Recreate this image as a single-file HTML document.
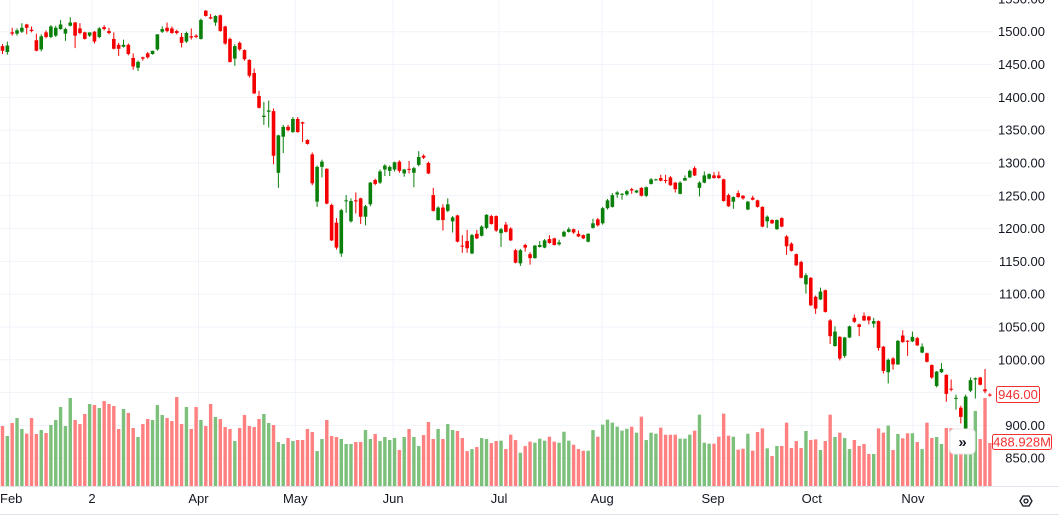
<!DOCTYPE html>
<html><head><meta charset="utf-8"><style>
html,body{margin:0;padding:0;background:#fff;}
svg{display:block;font-family:"Liberation Sans",sans-serif;}
</style></head><body>
<svg id="chart" width="1059" height="518" viewBox="0 0 1059 518" xmlns="http://www.w3.org/2000/svg">
<g id="grid"></g>
<g id="vol"></g>
<g id="candles"></g>
<g id="axis"></g>
<g id="taxis"></g>
<line x1="0" y1="486.5" x2="1059" y2="486.5" stroke="#e0e3eb"/>
<line x1="0" y1="514.5" x2="1059" y2="514.5" stroke="#e0e3eb"/>
<g>
<rect x="996.5" y="386.5" width="43" height="16" rx="2" fill="#fff" stroke="#f23030"/>
<text x="1018" y="399" text-anchor="middle" font-size="13" fill="#f23030">946.00</text>
</g>
<g>
<rect x="992.5" y="434.5" width="59" height="15" rx="2" fill="#fff" stroke="#f23030"/>
<text x="1022" y="446.5" text-anchor="middle" font-size="13" fill="#f23030">488.928M</text>
</g>
<g>
<rect x="950" y="429" width="25" height="25" rx="4" fill="#fff" stroke="#e8e8e8"/>
<text x="962.5" y="447" text-anchor="middle" font-size="15" font-weight="bold" fill="#131722">»</text>
</g>
<g>
<polygon points="1020,501 1023,496 1029,496 1032,501 1029,506 1023,506" fill="none" stroke="#131722" stroke-width="1.3"/>
<circle cx="1026" cy="501" r="2" fill="none" stroke="#131722" stroke-width="1.3"/>
</g>
</svg>
<script>
const opens=[1478,1469,1499,1497,1500,1511,1503,1487,1473,1499,1492,1494,1504,1497,1509,1514,1505,1499,1494,1500,1492,1507,1501,1489,1480,1477,1480,1460,1445,1461,1467,1466,1473,1500,1506,1505,1501,1492,1485,1493,1494,1489,1532,1522,1514,1525,1508,1489,1459,1483,1472,1457,1437,1402,1370,1378,1379,1285,1340,1355,1347,1367,1362,1335,1313,1241,1294,1291,1236,1209,1162,1242,1211,1243,1246,1218,1237,1274,1270,1290,1288,1290,1302,1284,1291,1285,1297,1311,1300,1251,1213,1232,1227,1211,1220,1174,1181,1162,1192,1189,1201,1219,1219,1193,1206,1200,1167,1147,1175,1161,1155,1172,1171,1184,1185,1176,1188,1195,1199,1192,1190,1180,1201,1214,1208,1231,1233,1252,1252,1252,1260,1255,1262,1250,1268,1274,1277,1274,1278,1270,1253,1273,1278,1292,1262,1270,1276,1281,1281,1275,1251,1241,1254,1250,1229,1247,1243,1233,1211,1213,1199,1216,1188,1177,1161,1149,1115,1125,1096,1092,1106,1060,1021,1035,1006,1034,1064,1054,1067,1066,1055,1059,1020,981,1002,993,1037,1029,1028,1033,1011,1010,992,960,981,977,956,941,927,893,953,970,973,955,947];
const closes=[1471,1479,1497,1502,1506,1506,1501,1471,1493,1492,1508,1506,1511,1504,1514,1494,1498,1489,1499,1485,1505,1504,1498,1474,1474,1480,1466,1447,1454,1459,1461,1471,1496,1504,1501,1498,1498,1483,1498,1491,1492,1518,1524,1520,1524,1501,1482,1454,1478,1473,1458,1433,1406,1384,1372,1380,1311,1342,1355,1350,1367,1347,1360,1329,1269,1294,1302,1238,1182,1171,1228,1243,1242,1242,1218,1234,1270,1268,1287,1296,1294,1301,1288,1290,1290,1292,1309,1308,1284,1227,1232,1213,1237,1217,1180,1173,1170,1190,1185,1203,1221,1207,1197,1199,1195,1182,1148,1167,1171,1155,1174,1175,1182,1178,1175,1179,1195,1199,1194,1188,1185,1192,1208,1205,1231,1243,1251,1255,1253,1257,1258,1258,1250,1263,1275,1275,1273,1273,1266,1260,1270,1277,1288,1281,1270,1281,1283,1277,1277,1242,1234,1248,1248,1246,1241,1244,1233,1203,1218,1208,1213,1203,1173,1166,1144,1125,1129,1083,1078,1104,1073,1036,1043,1002,1034,1051,1058,1050,1060,1060,1059,1018,983,1000,993,1029,1027,1028,1035,1022,1020,997,973,982,986,948,955,942,913,944,969,972,962,952,946];
const highs=[1481,1485,1506,1505,1513,1512,1508,1497,1496,1502,1510,1509,1518,1506,1522,1515,1513,1500,1497,1501,1507,1510,1506,1499,1483,1488,1482,1467,1456,1462,1469,1468,1496,1508,1514,1508,1503,1498,1500,1505,1496,1520,1533,1527,1525,1526,1509,1491,1481,1485,1473,1458,1444,1410,1393,1395,1383,1343,1358,1358,1370,1370,1363,1336,1316,1296,1305,1292,1238,1216,1230,1251,1246,1255,1247,1236,1271,1276,1290,1298,1296,1302,1304,1291,1303,1294,1318,1313,1302,1262,1234,1237,1246,1219,1221,1190,1198,1192,1198,1205,1222,1221,1220,1201,1210,1202,1169,1169,1177,1164,1175,1181,1184,1190,1186,1183,1197,1202,1200,1197,1191,1193,1215,1216,1233,1245,1254,1257,1254,1259,1262,1259,1263,1264,1277,1276,1282,1282,1280,1271,1272,1281,1290,1295,1272,1287,1284,1286,1287,1276,1253,1249,1258,1251,1242,1250,1244,1234,1220,1214,1214,1217,1190,1179,1162,1151,1132,1126,1098,1110,1107,1062,1051,1036,1035,1052,1069,1055,1072,1067,1064,1060,1021,1002,1004,1030,1045,1030,1043,1035,1025,1011,993,983,995,978,970,947,930,947,973,973,974,986,949];
const lows=[1466,1465,1494,1494,1498,1496,1499,1470,1470,1490,1490,1492,1503,1486,1508,1475,1496,1488,1492,1482,1490,1502,1496,1473,1463,1476,1464,1442,1440,1456,1459,1465,1471,1498,1499,1497,1496,1476,1483,1488,1490,1488,1523,1519,1509,1500,1480,1453,1448,1471,1456,1430,1405,1383,1358,1354,1298,1262,1315,1348,1346,1346,1332,1328,1266,1233,1278,1237,1181,1168,1157,1224,1209,1223,1207,1205,1234,1266,1268,1280,1280,1287,1285,1279,1284,1263,1295,1306,1283,1226,1212,1197,1225,1194,1179,1163,1163,1161,1184,1188,1199,1206,1195,1172,1194,1181,1147,1143,1165,1145,1154,1171,1170,1177,1174,1174,1187,1194,1192,1187,1184,1179,1200,1203,1206,1229,1232,1247,1244,1250,1253,1254,1249,1248,1267,1273,1272,1269,1265,1255,1252,1276,1277,1280,1249,1269,1275,1276,1276,1241,1233,1230,1247,1244,1228,1243,1232,1202,1201,1207,1198,1202,1160,1165,1143,1124,1101,1082,1070,1091,1072,1024,1020,999,1003,1033,1056,1036,1059,1054,1049,1014,979,964,985,992,1026,1006,1027,1021,1010,996,971,958,980,936,952,924,903,885,951,941,961,949,944];
const volumes=[682,568,716,773,648,595,773,591,636,602,693,750,898,682,1000,750,704,818,932,920,886,966,932,909,648,875,830,659,557,704,761,750,920,807,773,738,1011,704,898,648,898,750,682,932,784,761,670,648,511,659,807,682,670,761,818,716,693,500,477,545,511,523,523,648,613,397,534,750,568,557,534,477,477,500,500,636,534,591,511,557,523,545,409,557,648,557,454,579,727,534,648,534,704,636,625,545,397,420,443,545,534,488,511,515,420,583,522,378,454,504,492,538,515,560,504,492,617,515,469,420,401,401,636,560,697,754,720,674,629,651,674,606,788,522,606,594,663,583,583,583,538,538,583,629,811,492,481,481,560,822,572,560,413,424,594,401,614,655,428,341,455,455,720,432,511,432,625,523,530,409,511,811,557,606,546,420,523,455,477,364,364,655,606,686,409,591,542,599,599,500,420,720,546,557,477,659,655,637,599,674,637,853,534,1000,489];
const priceTicks=[1550,1500,1450,1400,1350,1300,1250,1200,1150,1100,1050,1000,900,850];
const gridPrices=[1550,1500,1450,1400,1350,1300,1250,1200,1150,1100,1050,1000,950,900,850];
const timeLabels=["Feb","2","Apr","May","Jun","Jul","Aug","Sep","Oct","Nov"];
const timeIndex=[1.5,18.5,40.5,60.5,80.7,102.6,123.9,146.8,167.2,188.1];

const NS="http://www.w3.org/2000/svg";
function yP(p){return 31.7+(1500-p)*0.6562;}
function xI(i){return 2.5+i*4.84;}
function yV(v){return 486-v*0.088;}
function mk(tag,attrs,parent){const e=document.createElementNS(NS,tag);for(const k in attrs)e.setAttribute(k,attrs[k]);parent.appendChild(e);return e;}

const grid=document.getElementById('grid');
gridPrices.forEach(p=>{
  const l=mk('line',{x1:0,x2:992,y1:yP(p),y2:yP(p),stroke:'#f0f3fa','stroke-width':1},grid);
  
  
});
timeIndex.forEach(t=>{
  const l=mk('line',{x1:xI(t),x2:xI(t),y1:0,y2:486,stroke:'#f0f3fa','stroke-width':1},grid);
  
  
});

const vol=document.getElementById('vol');
volumes.forEach((v,i)=>{
  const up=closes[i]>=opens[i];
  const r=mk('rect',{x:xI(i)-1.7,y:yV(v),width:3.4,height:486-yV(v),fill:up?'#7cc07c':'#ff8080'},vol);
  
  
});

const cg=document.getElementById('candles');
opens.forEach((o,i)=>{
  const c=closes[i],up=c>=o,col=up?'#0a800a':'#f50000';
  const g=mk('g',{},cg);
  
  
  const x=xI(i);
  mk('line',{x1:x,x2:x,y1:yP(highs[i]),y2:yP(lows[i]),stroke:col,'stroke-width':1},g);
  const top=yP(Math.max(o,c)),bot=yP(Math.min(o,c));
  mk('rect',{x:x-1.8,y:top,width:3.6,height:Math.max(1,bot-top),fill:col},g);
});

const ax=document.getElementById('axis');
priceTicks.forEach(p=>{
  const t=mk('text',{x:1045,y:yP(p)+4.5,'text-anchor':'end','font-size':13,fill:'#131722'},ax);
  t.textContent=p.toFixed(2);
  
  
});
const ta=document.getElementById('taxis');
timeLabels.forEach((s,k)=>{
  const t=mk('text',{x:xI(timeIndex[k]),y:503,'text-anchor':s==='Feb'?'start':'middle','font-size':13,fill:'#131722'},ta);
  if(s==='Feb')t.setAttribute('x',0);
  t.textContent=s;
  
  
});
</script>
</body></html>
